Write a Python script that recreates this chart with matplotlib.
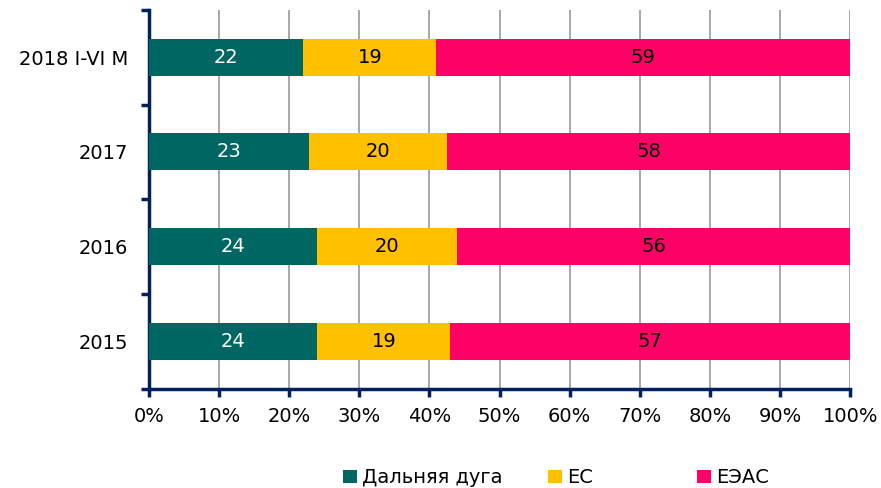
import numpy as np
import matplotlib.pyplot as plt
from matplotlib.ticker import FuncFormatter, FixedLocator

years = ["2015", "2016", "2017", "2018 I-VI M"]
far = np.array([24, 24, 23, 22])
eu = np.array([19, 20, 20, 19])
eaeu = np.array([57, 56, 58, 59])
names = ["Дальняя дуга", "ЕС", "ЕЭАС"]
colors = ["#006661", "#FFC000", "#FF0066"]
txtcol = ["white", "black", "black"]

plt.rcParams['font.family'] = ['DejaVu Sans']
fig = plt.figure(figsize=(8.81, 4.88), dpi=100)
ax = fig.add_axes([0.169, 0.203, 0.796, 0.777])

tot = far + eu + eaeu
vals = [far, eu, eaeu]
y = np.arange(len(years))
left = np.zeros(len(years))
bars = []
for v, c, tc, nm in zip(vals, colors, txtcol, names):
    w = v / tot * 100
    b = ax.barh(y, w, left=left, height=0.39, color=c, label=nm, zorder=3)
    bars.append(b)
    for yi, li, wi, vi in zip(y, left, w, v):
        ax.text(li + wi / 2, yi, str(vi), ha='center', va='center',
                color=tc, fontsize=14, zorder=4)
    left = left + w

ax.set_xlim(0, 100)
ax.set_ylim(-0.5, 3.5)
ax.set_xticks(np.arange(0, 101, 10))
ax.xaxis.set_major_formatter(FuncFormatter(lambda v, p: f"{v:.0f}%"))
ax.set_yticks(y)
ax.set_yticklabels(years)
ax.yaxis.set_minor_locator(FixedLocator(np.arange(-0.5, 3.6, 1)))
ax.tick_params(axis='y', which='major', length=0, labelsize=14, pad=15)
ax.tick_params(axis='y', which='minor', length=6, width=2.5, color='#002060')
ax.tick_params(axis='x', length=6, width=2.5, color='#002060', labelsize=14, pad=7)
ax.grid(axis='x', color='#999999', lw=1.2, zorder=0)

for s in ['top', 'right']:
    ax.spines[s].set_visible(False)
for s in ['left', 'bottom']:
    ax.spines[s].set_color('#002060')
    ax.spines[s].set_linewidth(2.5)

# legend entries spaced like the original
for b, nm, xp in zip(bars, names, [343, 548, 697]):
    fig.legend([b], [nm], loc='center left', bbox_to_anchor=(xp / 881, 0.021),
               frameon=False, fontsize=14, handlelength=0.7, handleheight=0.7,
               handletextpad=0.3, borderpad=0, borderaxespad=0)

fig.savefig("out.png", dpi=100)
